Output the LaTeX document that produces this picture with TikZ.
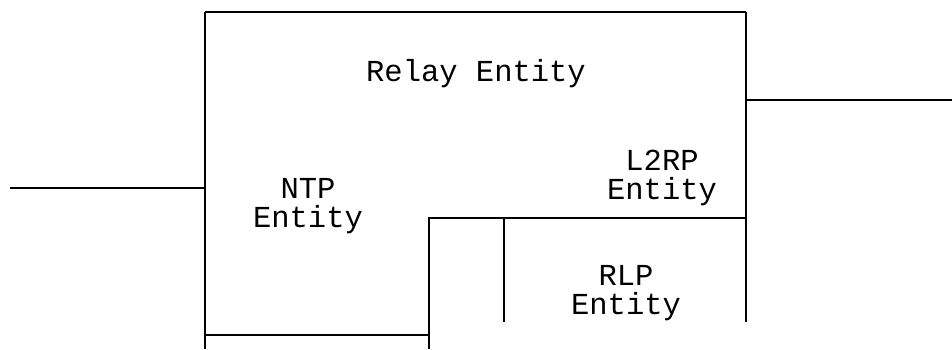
\documentclass[tikz,border=0pt]{standalone}
\usepackage{fontspec}
\setmonofont{Liberation Mono}
\usetikzlibrary{calc}

\tikzset{
  wire/.style={line width=1.6pt},
  label/.style={font=\ttfamily\fontsize{30.5}{29}\selectfont, align=center, inner sep=0pt}
}

\begin{document}
\begin{tikzpicture}[x=1pt, y=-1pt]
  \useasboundingbox (0,0) rectangle (952,349);

  \coordinate (tl) at (205,12);
  \coordinate (tr) at (746,12);
  \coordinate (bl) at (205,349);
  \coordinate (br) at (746,322);
  \coordinate (in) at (10,188);
  \coordinate (ina) at (205,188);
  \coordinate (out) at (952,100);
  \coordinate (outa) at (746,100);
  \coordinate (ntpa) at (205,335);
  \coordinate (ntpb) at (429,335);
  \coordinate (stepa) at (429,349);
  \coordinate (stepb) at (429,218);
  \coordinate (stepc) at (746,218);
  \coordinate (rlpa) at (504,218);
  \coordinate (rlpb) at (504,322);

  \draw[wire] (tl) -- (tr);
  \draw[wire] (tl) -- (bl);
  \draw[wire] (tr) -- (br);
  \draw[wire] (in) -- (ina);
  \draw[wire] (outa) -- (out);
  \draw[wire] (ntpa) -- (ntpb);
  \draw[wire] (stepa) -- (stepb) -- (stepc);
  \draw[wire] (rlpa) -- (rlpb);

  \node[label] (relay) at (476,74) {Relay Entity};
  \node[label] (ntp) at (308,206) {NTP\\Entity};
  \node[label] (l2rp) at (662,178) {L2RP\\Entity};
  \node[label] (rlp) at (626,293) {RLP\\Entity};
\end{tikzpicture}
\end{document}
